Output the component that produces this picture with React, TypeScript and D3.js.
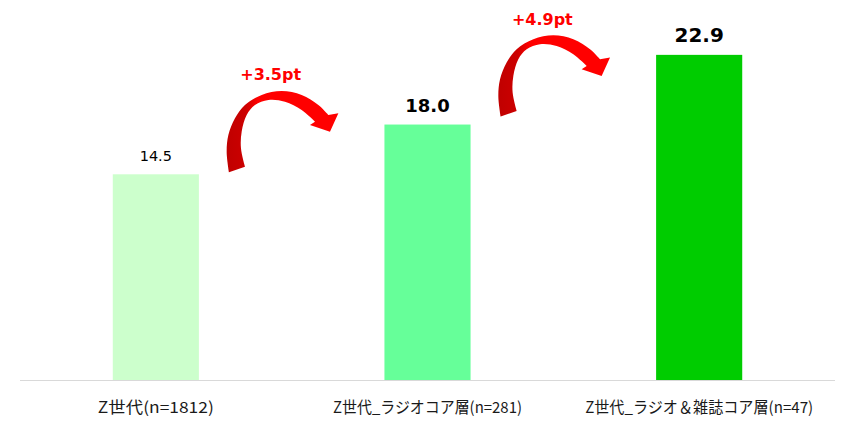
import React, { useRef, useEffect } from 'react';
import * as d3 from 'd3';

// カテゴリと値
const categories = ['Z世代(n=1812)', 'Z世代_ラジオコア層(n=281)', 'Z世代_ラジオ＆雑誌コア層(n=47)'];
const values = [14.5, 18.0, 22.9];
const barColors = ['#ccffcc', '#66ff99', '#00cc00'];
const deltaLabels = ['+3.5pt', '+4.9pt'];

// ラベルの見た目
const valueFontSizes = [14.5, 18, 20];
const valueFontWeights = ['normal', 'bold', 'bold'];
const categoryWidths = [116, 189, 228];

const width = 850;
const height = 422;

// 矢印の形 (ローカル座標)
const arrowOuter: [number, number][] = [
  [-62.7, 12.9], [-65, -7.7], [-63.3, -24.4], [-56.7, -41.1], [-46.7, -54.4],
  [-30, -64.4], [-10, -68.4], [10, -64.4], [26.7, -54.4], [36.7, -44.4],
];
const arrowHead: [number, number][] = [[46.7, -46.1], [38.3, -27.7], [18.3, -34.4]];
const arrowInner: [number, number][] = [
  [23.3, -37.7], [10, -49.4], [-6.7, -57.7], [-23.3, -59.4], [-36.7, -54.4],
  [-45, -44.4], [-50, -27.7], [-50.7, -11.1], [-46.7, 7.3],
];

const App: React.FC = () => {
  const svgRef = useRef<SVGSVGElement>(null);

  useEffect(() => {
    document.body.style.margin = '0';
    if (!svgRef.current) return;
    const svg = d3.select(svgRef.current);
    svg.selectAll('*').remove();

    const x = d3
      .scaleBand<string>()
      .domain(categories)
      .range([20, 835])
      .paddingInner(0.683)
      .paddingOuter(0.3415);

    const y = d3.scaleLinear().domain([0, 25]).range([380.5, 25]);

    // グラデーション
    const grad = svg
      .append('defs')
      .append('linearGradient')
      .attr('id', 'arrow-grad')
      .attr('x1', '0%')
      .attr('y1', '0%')
      .attr('x2', '100%')
      .attr('y2', '0%');
    grad.append('stop').attr('offset', '0%').attr('stop-color', '#c00000');
    grad.append('stop').attr('offset', '17%').attr('stop-color', '#cc0000');
    grad.append('stop').attr('offset', '28%').attr('stop-color', '#ff0000');
    grad.append('stop').attr('offset', '100%').attr('stop-color', '#ff0000');

    // 棒
    svg
      .selectAll('.bar')
      .data(values)
      .enter()
      .append('rect')
      .attr('class', 'bar')
      .attr('x', (_, i) => x(categories[i]) as number)
      .attr('y', (d) => y(d))
      .attr('width', x.bandwidth())
      .attr('height', (d) => y(0) - y(d))
      .attr('fill', (_, i) => barColors[i]);

    // 軸線
    svg
      .append('line')
      .attr('x1', 20)
      .attr('x2', 835)
      .attr('y1', y(0))
      .attr('y2', y(0))
      .attr('stroke', '#d9d9d9')
      .attr('stroke-width', 1.2);

    // 値ラベル
    svg
      .selectAll('.value-label')
      .data(values)
      .enter()
      .append('text')
      .attr('class', 'value-label')
      .attr('x', (_, i) => (x(categories[i]) as number) + x.bandwidth() / 2)
      .attr('y', (d) => y(d) - 13)
      .attr('text-anchor', 'middle')
      .style('font-family', '"DejaVu Sans", Verdana, sans-serif')
      .style('font-size', (_, i) => `${valueFontSizes[i]}px`)
      .style('font-weight', (_, i) => valueFontWeights[i])
      .style('fill', '#000')
      .text((d) => d.toFixed(1));

    // カテゴリラベル
    svg
      .selectAll('.cat-label')
      .data(categories)
      .enter()
      .append('text')
      .attr('class', 'cat-label')
      .attr('x', (d) => (x(d) as number) + x.bandwidth() / 2)
      .attr('y', 413)
      .attr('text-anchor', 'middle')
      .attr('textLength', (_, i) => categoryWidths[i])
      .attr('lengthAdjust', 'spacingAndGlyphs')
      .style('font-family', '"Noto Sans CJK JP", sans-serif')
      .style('font-size', '15.5px')
      .style('fill', '#1a1a1a')
      .text((d) => d);

    // 矢印
    const curve = d3.line().curve(d3.curveCatmullRom);
    const arrowPath =
      (curve(arrowOuter) as string) +
      arrowHead.map((p) => `L${p[0]},${p[1]}`).join('') +
      (curve(arrowInner) as string).replace(/^M/, 'L') +
      'Z';

    deltaLabels.forEach((label, i) => {
      const left = (x(categories[i]) as number) + x.bandwidth();
      const right = x(categories[i + 1]) as number;
      const ax = (left + right) / 2;
      const ay = y(values[i]) * 0.7 + y(values[i + 1]) * 0.3;
      const g = svg.append('g').attr('transform', `translate(${ax},${ay})`);
      g.append('path').attr('d', arrowPath).attr('fill', 'url(#arrow-grad)');
      g.append('text')
        .attr('x', -21)
        .attr('y', -79)
        .attr('text-anchor', 'middle')
        .style('font-family', '"DejaVu Sans", Verdana, sans-serif')
        .style('font-size', '16px')
        .style('font-weight', 'bold')
        .style('fill', '#ff0000')
        .text(label);
    });
  }, []);

  return <svg ref={svgRef} width={width} height={height} style={{ display: 'block', background: '#fff' }} />;
};

export default App;
